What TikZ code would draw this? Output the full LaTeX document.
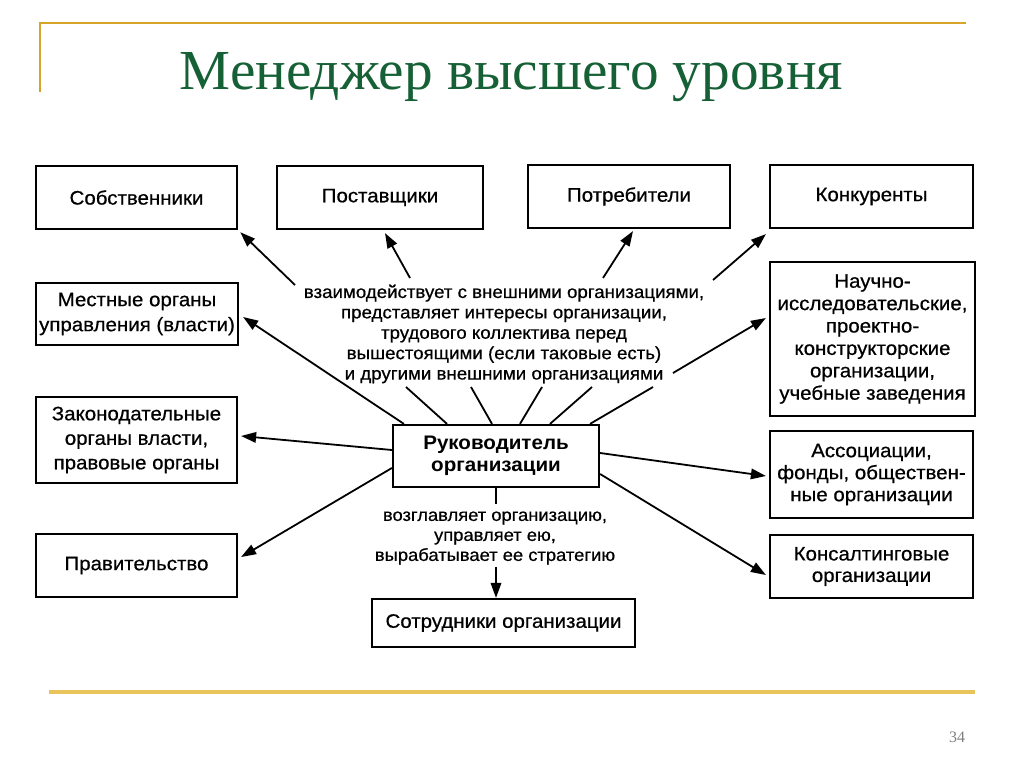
\documentclass[tikz,border=0pt]{standalone}
\usepackage{graphicx}
\usepackage{fontspec}
\setmainfont{Liberation Sans}[FakeStretch=1.05,UprightFeatures={FakeBold=0.6}]
\newfontfamily\titlefont{Liberation Serif}
\usetikzlibrary{arrows.meta,calc}
\definecolor{titlegreen}{RGB}{22,96,54}
\definecolor{goldline}{RGB}{214,165,40}
\definecolor{goldbar}{RGB}{232,196,90}
\begin{document}
\begin{tikzpicture}[x=1pt,y=-1pt,
  box/.style={draw,line width=2.2pt,rectangle,inner sep=0pt,align=center,font=\fontsize{19.5}{23}\selectfont},
  lbl/.style={align=center,inner sep=0pt,font=\fontsize{17.8}{20.4}\selectfont},
  arr/.style={line width=1.8pt,-{Triangle[length=15pt,width=10.5pt]}},
  ln/.style={line width=1.8pt}]
\useasboundingbox (0,0) rectangle (1024,767);
\fill[white] (0,0) rectangle (1024,767);
% frame lines
\draw[goldline,line width=2.5pt] (40,92) -- (40,23) -- (966,23);
\draw[goldbar,line width=4pt] (49,692) -- (975,692);
% title
\node[anchor=base,inner sep=0pt,text=titlegreen] (title) at (511.5,90) {\resizebox{663pt}{37pt}{\titlefont Менеджер высшего уровня}};
\node[text=gray,font=\titlefont\fontsize{16}{16}\selectfont,inner sep=0pt] (pg) at (957,737) {34};
% boxes
\node[box,minimum width=201pt,minimum height=63pt] (sob) at (136.5,197.5) {Собственники};
\node[box,minimum width=206pt,minimum height=63pt] (post) at (380,197.5) {Поставщики};
\node[box,minimum width=202pt,minimum height=63pt] (potr) at (629,196.5) {Потребители};
\node[box,minimum width=203pt,minimum height=63pt] (konk) at (871.5,196.5) {Конкуренты};
\node[box,minimum width=202pt,minimum height=62pt,font=\fontsize{19.5}{25}\selectfont] (mest) at (137,314) {Местные органы\\управления (власти)};
\node[box,minimum width=201pt,minimum height=86pt,font=\fontsize{19.5}{24.5}\selectfont] (zak) at (136.5,440) {Законодательные\\органы власти,\\правовые органы};
\node[box,minimum width=201pt,minimum height=63pt] (prav) at (136.5,565.5) {Правительство};
\node[box,minimum width=205pt,minimum height=154pt,font=\fontsize{19.5}{22.4}\selectfont] (nauch) at (872.5,339) {Научно-\\исследовательские,\\проектно-\\конструкторские\\организации,\\учебные заведения};
\node[box,minimum width=203pt,minimum height=87pt,font=\fontsize{19.5}{22}\selectfont] (assoc) at (871.5,474.5) {Ассоциации,\\фонды, обществен-\\ные организации};
\node[box,minimum width=203pt,minimum height=63pt,font=\fontsize{19.5}{21.5}\selectfont] (kons) at (871.5,566.5) {Консалтинговые\\организации};
\node[box,minimum width=206pt,minimum height=62pt,font=\fontsize{19.6}{22}\selectfont\bfseries] (ruk) at (496,456) {Руководитель\\организации};
\node[box,minimum width=263pt,minimum height=48pt] (sotr) at (503.5,623) {Сотрудники организации};
% labels
\node[lbl] (lab1) at (504,334) {взаимодействует с внешними организациями,\\представляет интересы организации,\\трудового коллектива перед\\вышестоящими (если таковые есть)\\и другими внешними организациями};
\node[lbl,font=\fontsize{17.5}{20}\selectfont] (lab2) at (495,538) {возглавляет организацию,\\управляет ею,\\вырабатывает ее стратегию};
% tail coordinates
\coordinate (t1) at (295,285);
\coordinate (t2) at (410,278);
\coordinate (t3) at (603,278);
\coordinate (t4) at (713,280);
\coordinate (t5) at (673,373);
\coordinate (t6) at (496,567);
\coordinate (s1) at (406,387);
\coordinate (s2) at (471,387);
\coordinate (s3) at (542,387);
\coordinate (s4) at (592,387);
\coordinate (s5) at (653,387);
% arrows from label
\draw[arr,shorten >=3pt] (t1) -- (sob.south east);
\draw[arr] (t2) -- ($(post.south)+(5,3)$);
\draw[arr] (t3) -- ($(potr.south)+(4,2)$);
\draw[arr] (t4) -- ($(konk.south west)+(-3,5)$);
\draw[arr] (t5) -- ($(nauch.west)+(-3,-21)$);
% short lines label -> head
\draw[ln] (s1) -- ($(ruk.north)+(-49,0)$);
\draw[ln] (s2) -- ($(ruk.north)+(-4,0)$);
\draw[ln] (s3) -- ($(ruk.north)+(24,0)$);
\draw[ln] (s4) -- ($(ruk.north)+(54,0)$);
\draw[ln] (s5) -- ($(ruk.north)+(94,0)$);
% arrows from head
\draw[arr] ($(ruk.north west)+(12,0)$) -- ($(mest.east)+(4,3)$);
\draw[arr] ($(ruk.west)+(0,-6)$) -- ($(zak.east)+(3,-4)$);
\draw[arr] ($(ruk.west)+(0,12)$) -- ($(prav.east)+(3,-8.5)$);
\draw[arr] ($(ruk.east)+(0,-3)$) -- ($(assoc.west)+(-3,1.5)$);
\draw[arr] ($(ruk.east)+(0,18)$) -- ($(kons.west)+(-3,8.5)$);
\draw[ln] (ruk.south) -- ($(ruk.south)+(0,16)$);
\draw[arr] (t6) -- (sotr.north -| t6);
\end{tikzpicture}
\end{document}
